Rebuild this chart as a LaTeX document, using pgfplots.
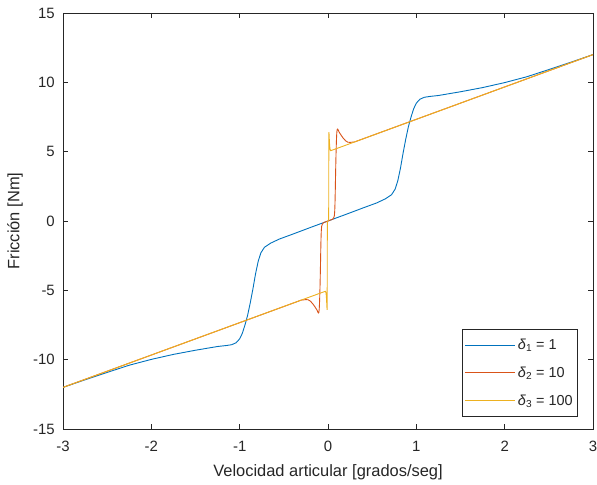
\documentclass[border=0pt]{standalone}
\usepackage{pgfplots}
\pgfplotsset{compat=1.18}
\usepackage{fontspec}
\setmainfont{Liberation Sans}
\definecolor{mlblue}{RGB}{0,114,189}
\definecolor{mlorange}{RGB}{217,83,25}
\definecolor{mlyellow}{RGB}{237,177,32}
\definecolor{axgray}{RGB}{38,38,38}
\begin{document}
\begin{tikzpicture}[x=1bp,y=1bp]
\useasboundingbox (0,0) rectangle (597,485);
\begin{axis}[
  at={(63bp,56bp)}, anchor=south west,
  scale only axis, width=530bp, height=416bp,
  xmin=-3, xmax=3, ymin=-15, ymax=15,
  xtick={-3,...,3}, ytick={-15,-10,...,15},
  tick align=inside, major tick length=5bp,
  axis line style={axgray, line width=0.6bp},
  tick style={axgray, line width=0.6bp},
  every tick label/.append style={font=\fontsize{15}{18}\selectfont, text=axgray},
  /pgf/number format/assume math mode=true,
  xticklabel style={anchor=north, inner sep=0pt, yshift=-12bp},
  yticklabel style={anchor=east, inner sep=0pt, xshift=-8bp},
  legend style={at={(0.9717,0.0296)}, anchor=south east, draw=axgray,
    line width=0.6bp, font=\fontsize{14.5}{17}\selectfont, text=axgray,
    inner xsep=3bp, inner ysep=9.5bp, row sep=16bp,
    nodes={inner xsep=2bp, inner ysep=0pt}},
  legend cell align=left,
  legend image code/.code={\draw[#1, line width=0.9bp] (0bp,0bp) -- (50bp,0bp);},
  every axis plot/.append style={line width=0.9bp},
]
% delta_1 = 1
\addplot[mlblue] coordinates {
(-3,-12.0) (-2.75,-11.45) (-2.5,-10.92) (-2.25,-10.4) (-2,-9.98) (-1.75,-9.62)
(-1.5,-9.32) (-1.25,-9.05) (-1.15,-8.98) (-1.09,-8.92) (-1.04,-8.78) (-1,-8.5)
(-0.97,-8.1) (-0.94,-7.5) (-0.91,-6.8) (-0.88,-5.9) (-0.85,-4.9) (-0.82,-3.8)
(-0.79,-2.9) (-0.76,-2.3) (-0.72,-1.9) (-0.65,-1.6) (-0.55,-1.3) (-0.4,-0.95)
(-0.2,-0.47) (0,0)
(0.2,0.47) (0.4,0.95) (0.55,1.3) (0.65,1.6) (0.72,1.9) (0.76,2.3) (0.79,2.9)
(0.82,3.8) (0.85,4.9) (0.88,5.9) (0.91,6.8) (0.94,7.5) (0.97,8.1) (1,8.5)
(1.04,8.78) (1.09,8.92) (1.15,8.98) (1.25,9.05) (1.5,9.32) (1.75,9.62)
(2,9.98) (2.25,10.4) (2.5,10.92) (2.75,11.45) (3,12.0)
};
\addlegendentry{\textit{δ}\textsubscript{1} = 1}
% delta_2 = 10
\addplot[mlorange] coordinates {
(-3,-12) (-0.3,-5.7) (-0.25,-5.67) (-0.225,-5.68) (-0.2,-5.78) (-0.175,-5.95)
(-0.15,-6.17) (-0.125,-6.42) (-0.115,-6.57) (-0.109,-6.63) (-0.104,-6.59)
(-0.1,-6.4) (-0.097,-6.07) (-0.094,-5.53) (-0.091,-4.89) (-0.088,-4.06)
(-0.085,-3.12) (-0.082,-2.08) (-0.079,-1.24) (-0.076,-0.71) (-0.072,-0.39)
(-0.065,-0.23) (-0.05,-0.12) (-0.03,-0.07) (0,0)
(0.03,0.07) (0.05,0.12) (0.065,0.23) (0.072,0.39) (0.076,0.71) (0.079,1.24)
(0.082,2.08) (0.085,3.12) (0.088,4.06) (0.091,4.89) (0.094,5.53) (0.097,6.07)
(0.1,6.4) (0.104,6.59) (0.109,6.63) (0.115,6.57) (0.125,6.42) (0.15,6.17)
(0.175,5.95) (0.2,5.78) (0.225,5.68) (0.25,5.67) (0.3,5.7) (3,12)
};
\addlegendentry{\textit{δ}\textsubscript{2} = 10}
% delta_3 = 100
\addplot[mlyellow] coordinates {
(-3,-12) (-0.1,-5.23) (-0.03,-5.07) (-0.025,-5.15) (-0.0225,-5.2) (-0.02,-5.36)
(-0.0175,-5.58) (-0.015,-5.86) (-0.0125,-6.16) (-0.0115,-6.33) (-0.0109,-6.41)
(-0.0104,-6.37) (-0.01,-6.19) (-0.0097,-5.86) (-0.0094,-5.33) (-0.0091,-4.7)
(-0.0088,-3.87) (-0.0085,-2.94) (-0.0082,-1.91) (-0.0079,-1.08) (-0.0076,-0.55)
(-0.0072,-0.24) (-0.0065,-0.1) (0,0)
(0.0065,0.1) (0.0072,0.24) (0.0076,0.55) (0.0079,1.08) (0.0082,1.91)
(0.0085,2.94) (0.0088,3.87) (0.0091,4.7) (0.0094,5.33) (0.0097,5.86)
(0.01,6.19) (0.0104,6.37) (0.0109,6.41) (0.0115,6.33) (0.0125,6.16)
(0.015,5.86) (0.0175,5.58) (0.02,5.36) (0.0225,5.2) (0.025,5.15) (0.03,5.07)
(0.1,5.23) (3,12)
};
\addlegendentry{\textit{δ}\textsubscript{3} = 100}
\end{axis}
\node[rotate=90, font=\fontsize{16.5}{20}\selectfont, text=axgray] at (15,264) {Fricción [Nm]};
\node[font=\fontsize{16.5}{20}\selectfont, text=axgray] at (328,13) {Velocidad articular [grados/seg]};
\end{tikzpicture}
\end{document}
